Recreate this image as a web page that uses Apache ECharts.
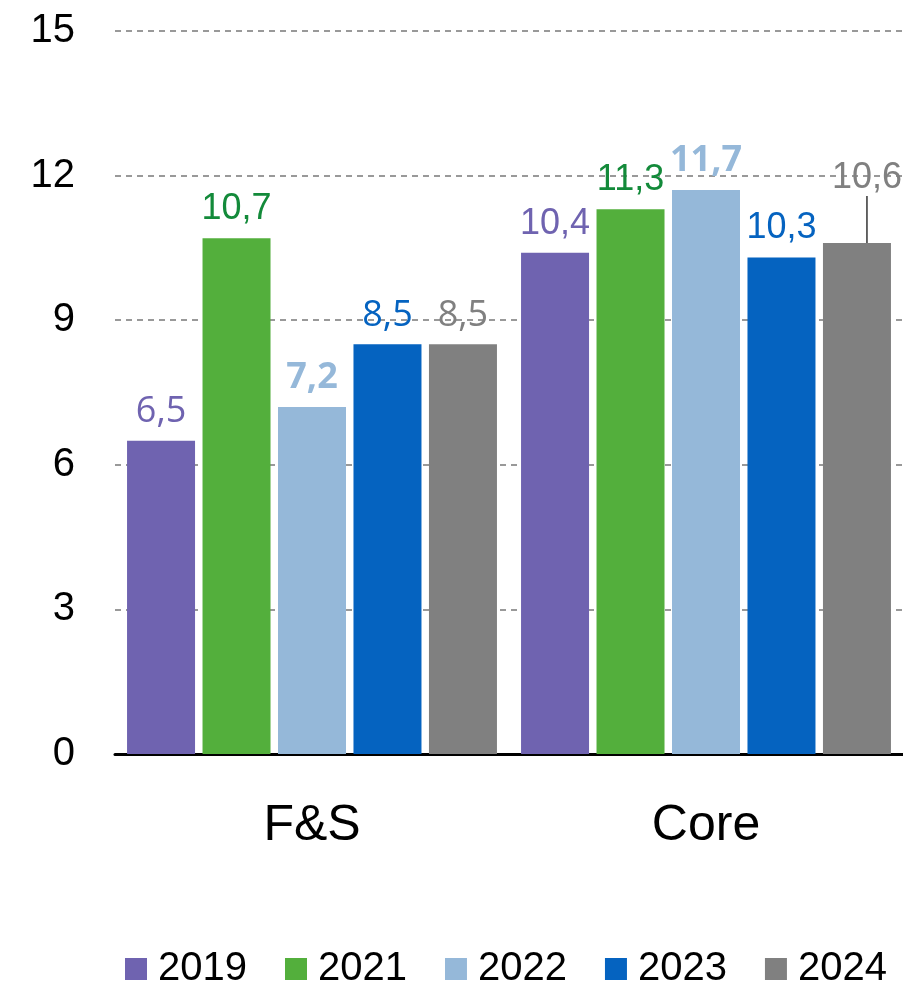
<!DOCTYPE html>
<html><head><meta charset="utf-8">
<script src="https://cdn.jsdelivr.net/npm/echarts@6/dist/echarts.min.js"></script>
<style>html,body{margin:0;padding:0;background:#fff}#c{width:903px;height:988px}</style>
</head><body><div id="c"></div>
<script>
const categories = ['F&S', 'Core'];
const years = ['2019', '2021', '2022', '2023', '2024'];
const v2019 = [6.5, 10.4];
const v2021 = [10.7, 11.3];
const v2022 = [7.2, 11.7];
const v2023 = [8.5, 10.3];
const v2024 = [8.5, 10.6];
const yTicks = [0, 3, 6, 9, 12, 15];

const barColors = ['#6F63B0', '#53AF3C', '#95B8D9', '#0563C0', '#808080'];
const labelColors = ['#6F63B0', '#138A3A', '#95B8D9', '#0563C0', '#808080'];
const labelFonts = [
  ['Open Sans', 'Liberation Sans'],
  ['Liberation Sans', 'Liberation Sans'],
  ['Open Sans', 'Open Sans'],
  ['Open Sans', 'Liberation Sans'],
  ['Open Sans', 'Liberation Sans']
];
const labelWeights = ['normal', 'normal', 'bold', 'normal', 'normal'];
const allValues = [v2019, v2021, v2022, v2023, v2024];

const chart = echarts.init(document.getElementById('c'), null, {renderer: 'canvas'});
const series = years.map((y, i) => ({
  name: y,
  type: 'bar',
  barWidth: 68,
  barGap: '11%',
  itemStyle: {color: barColors[i]},
  data: allValues[i].map((v, j) => ({
    value: v,
    label: {fontFamily: labelFonts[i][j]},
    labelLine: {show: i === 4 && j === 1, lineStyle: {color: '#000', width: 1.2}}
  })),
  label: {
    show: true,
    position: 'top',
    distance: 11,
    color: labelColors[i],
    fontSize: 36,
    fontWeight: labelWeights[i],
    formatter: p => String(p.value).replace('.', ',')
  },
  labelLayout: i === 4 ? function (p) {
    if (p.dataIndex === 1) return {dx: 10, dy: -36};
    return {};
  } : undefined
}));

chart.setOption({
  animation: false,
  textStyle: {fontFamily: 'Liberation Sans'},
  legend: {
    data: years,
    bottom: -6,
    left: 120,
    itemWidth: 22,
    itemHeight: 22,
    itemGap: 38,
    icon: 'rect',
    textStyle: {fontSize: 40, color: '#000', fontFamily: 'Liberation Sans', padding: [0, 0, 0, 6]}
  },
  grid: {left: 115, right: -4, top: 31, bottom: 234, containLabel: false},
  xAxis: {
    type: 'category',
    data: categories,
    axisLine: {lineStyle: {color: '#000', width: 3}},
    axisTick: {show: false},
    axisLabel: {fontSize: 50, color: '#000', margin: 47, fontFamily: 'Liberation Sans'}
  },
  yAxis: {
    type: 'value',
    min: yTicks[0],
    max: yTicks[yTicks.length - 1],
    interval: 3,
    axisLine: {show: false},
    axisTick: {show: false},
    axisLabel: {fontSize: 40, color: '#000', margin: 40, fontFamily: 'Liberation Sans'},
    splitLine: {lineStyle: {color: '#999', type: [6, 5], width: 2}}
  },
  series: series
});
</script></body></html>
